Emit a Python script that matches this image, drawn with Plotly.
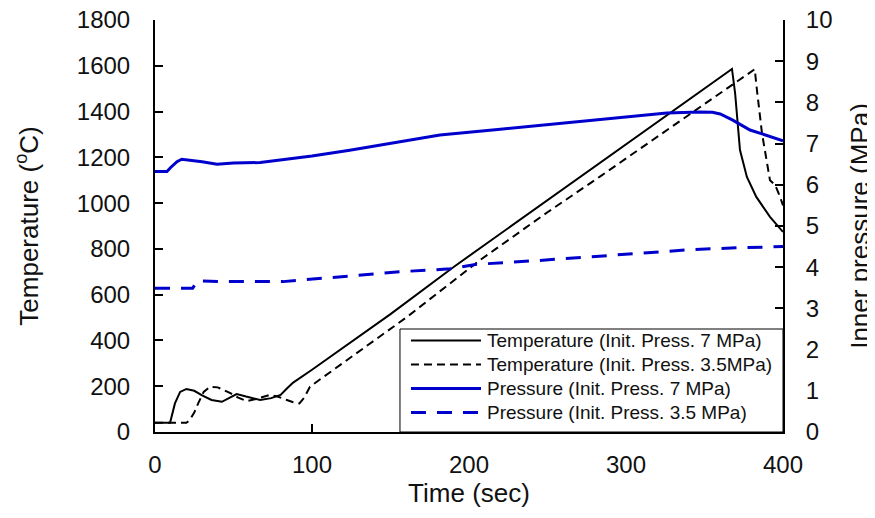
import plotly.graph_objects as go

# ---- data ----
t_temp7 = [0, 9.6, 12.7, 16, 20, 25, 30, 36, 42.6, 48, 52, 58, 67, 74, 80, 84, 88, 100, 124, 150,
           190, 220, 250, 283.4, 320, 350, 367.5, 369.5, 370.7, 372.6, 377, 383, 391.7, 400]
temp7 = [40, 40, 125, 175, 188, 180, 160, 140, 132, 150, 166, 155, 140, 148, 162, 190, 216, 272, 390, 515,
         720, 866, 1012, 1175, 1352, 1500, 1586, 1480, 1376, 1232, 1114, 1027, 940, 874]

t_temp35 = [0, 20, 22, 25, 27.5, 31, 35, 40, 48, 53, 58.5, 65, 73, 78, 84, 88, 92, 95, 98.7, 124, 160,
            207, 250, 283.4, 320, 350, 382, 383.4, 386.6, 391.7, 395, 398, 400]
temp35 = [40, 40, 52, 85, 125, 175, 198, 195, 170, 150, 135, 145, 162, 155, 140, 130, 125, 150, 198, 322, 500,
          751, 960, 1116, 1290, 1435, 1585, 1494, 1306, 1100, 1079, 1030, 990]

t_press7 = [0, 7.6, 10, 14, 17, 22, 30, 39.5, 50, 67, 79.6, 100, 124, 150, 181.5, 220, 250, 283.4, 310,
            326, 347, 355, 360, 368, 379, 388.5, 400]
press7 = [6.32, 6.32, 6.42, 6.56, 6.62, 6.60, 6.56, 6.50, 6.53, 6.54, 6.60, 6.70, 6.84, 7.00, 7.21, 7.35,
          7.46, 7.59, 7.68, 7.74, 7.77, 7.76, 7.72, 7.57, 7.33, 7.21, 7.07]

t_press35 = [0, 24, 27, 40, 60, 81.5, 94, 124, 156, 188, 205, 247, 266, 300, 343, 370, 394, 400]
press35 = [3.49, 3.49, 3.67, 3.65, 3.65, 3.65, 3.69, 3.79, 3.89, 3.96, 4.07, 4.17, 4.22, 4.31, 4.43, 4.47,
           4.50, 4.50]

x_ticks = [0, 100, 200, 300, 400]
y_ticks = [0, 200, 400, 600, 800, 1000, 1200, 1400, 1600, 1800]
y2_ticks = list(range(0, 11))

names = ["Temperature (Init. Press. 7 MPa)", "Temperature (Init. Press. 3.5MPa)",
         "Pressure (Init. Press. 7 MPa)", "Pressure (Init. Press. 3.5 MPa)"]

BLUE = "#0000CD"
FONT = "Liberation Sans, Arial, sans-serif"
TXT = "#111"

styles = [dict(color="black", width=2),
          dict(color="black", width=2, dash="8px,5px"),
          dict(color=BLUE, width=3),
          dict(color=BLUE, width=3, dash="15px,11px")]

fig = go.Figure()
fig.add_trace(go.Scatter(x=t_temp7, y=temp7, mode="lines", name=names[0], line=styles[0]))
fig.add_trace(go.Scatter(x=t_temp35, y=temp35, mode="lines", name=names[1], line=styles[1]))
fig.add_trace(go.Scatter(x=t_press7, y=press7, mode="lines", name=names[2], yaxis="y2", line=styles[2]))
fig.add_trace(go.Scatter(x=t_press35, y=press35, mode="lines", name=names[3], yaxis="y2", line=styles[3]))

# ---- legend box (drawn in paper coordinates, tight rows like the original) ----
shapes = [dict(type="rect", xref="paper", yref="paper", x0=0.3901, x1=1.0, y0=0.0, y1=0.2500,
               line=dict(color="black", width=1), fillcolor="white", layer="above")]
annotations = []
row_y = [0.2221, 0.1638, 0.1056, 0.0473]
for nm, st, ry in zip(names, styles, row_y):
    shapes.append(dict(type="line", xref="paper", yref="paper", x0=0.4076, x1=0.5191, y0=ry, y1=ry,
                       line=st, layer="above"))
    annotations.append(dict(text=nm, xref="paper", yref="paper", x=0.5255, y=ry, xanchor="left",
                            yanchor="middle", showarrow=False,
                            font=dict(family=FONT, size=19, color=TXT)))

axis_common = dict(showline=True, linecolor="black", linewidth=2, ticks="inside", ticklen=8,
                   tickwidth=2, tickcolor="black", showgrid=False, zeroline=False, automargin=False,
                   ticklabeloverflow="allow",
                   tickfont=dict(family=FONT, size=24, color=TXT))
title_font = dict(family=FONT, size=26, color=TXT)

fig.update_layout(
    width=867, height=502,
    margin=dict(l=147, r=92, t=12, b=78),
    paper_bgcolor="white", plot_bgcolor="white",
    font=dict(family=FONT, color=TXT),
    showlegend=False,
    shapes=shapes,
    annotations=annotations,
    xaxis=dict(range=[0, 400], tickvals=x_ticks, ticklabelstandoff=10,
               title=dict(text="Time (sec)", font=title_font, standoff=2),
               **axis_common),
    yaxis=dict(range=[0, 1800], tickvals=y_ticks, ticklabelstandoff=18,
               title=dict(text="Temperature (<sup>o</sup>C)", font=title_font, standoff=31),
               **axis_common),
    yaxis2=dict(range=[0, 10], tickvals=y2_ticks, overlaying="y", side="right", ticklabelstandoff=16,
                title=dict(text="Inner pressure (MPa)", font=title_font, standoff=33),
                **axis_common),
)

fig.write_html("out.html")
